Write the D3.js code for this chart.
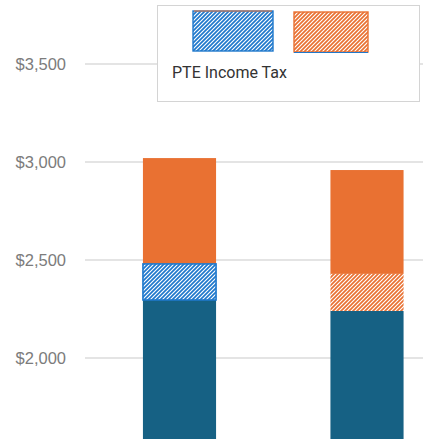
<!DOCTYPE html>
<html>
<head>
<meta charset="utf-8">
<script src="https://cdn.jsdelivr.net/npm/d3@7"></script>
<style>
  body { margin: 0; background: #fff; }
  svg { display: block; }
</style>
</head>
<body>
<svg id="chart"></svg>
<script>
const categories = ["Without PTE", "With PTE"];
const baseTax = [2296, 2240];
const pteTax = [184, 189];
const otherTax = [540, 530];
const yTicks = [2000, 2500, 3000, 3500];
const legendLabels = ["PTE Income Tax", ""];

const width = 423, height = 439;
const dark = "#166184", orange = "#e97132", blue = "#1f78cc";

const svg = d3.select("#chart").attr("width", width).attr("height", height);

// hatch patterns
const defs = svg.append("defs");
function hatch(id, color) {
  const p = defs.append("pattern")
    .attr("id", id)
    .attr("patternUnits", "userSpaceOnUse")
    .attr("width", 4).attr("height", 4);
  p.append("rect").attr("width", 4).attr("height", 4).attr("fill", "#fff");
  p.append("path")
    .attr("d", "M-1,1 l2,-2 M0,4 l4,-4 M3,5 l2,-2")
    .attr("stroke", color)
    .attr("stroke-width", 1.7);
}
hatch("hatchBlue", blue);
hatch("hatchOrange", orange);

const y = d3.scaleLinear().domain([1500, 3500]).range([456, 64]);
const x = d3.scaleBand().domain(categories)
  .range([85, 461.5]).paddingInner(0.61).paddingOuter(0.309);

// gridlines + tick labels
const grid = svg.append("g");
grid.selectAll("line").data(yTicks).enter().append("line")
  .attr("x1", 85).attr("x2", width)
  .attr("y1", d => y(d)).attr("y2", d => y(d))
  .attr("stroke", "#e4e4e4").attr("stroke-width", 2);
grid.selectAll("text").data(yTicks).enter().append("text")
  .attr("x", 66).attr("y", d => y(d)).attr("dy", "0.35em")
  .attr("text-anchor", "end")
  .style("font-family", "Liberation Sans, Arial")
  .style("font-size", "16.5px")
  .style("fill", "#7c7c7c")
  .text(d => "$" + d3.format(",")(d));

// bars
const bars = svg.append("g");
categories.forEach((c, i) => {
  const x0 = x(c), bw = x.bandwidth();
  const b = baseTax[i], p = b + pteTax[i], t = p + otherTax[i];
  bars.append("rect")
    .attr("x", x0).attr("width", bw)
    .attr("y", y(b)).attr("height", height + 20 - y(b))
    .attr("fill", dark);
  bars.append("rect")
    .attr("x", x0).attr("width", bw)
    .attr("y", y(t)).attr("height", y(p) - y(t))
    .attr("fill", orange);
  const h = bars.append("rect")
    .attr("x", x0).attr("width", bw)
    .attr("y", y(p)).attr("height", y(b) - y(p))
    .attr("fill", i === 0 ? "url(#hatchBlue)" : "url(#hatchOrange)");
  if (i === 0) h.attr("stroke", blue).attr("stroke-width", 1.6);
});

// legend
const legend = svg.append("g");
legend.append("rect")
  .attr("x", 157.5).attr("y", 5.5).attr("width", 262).attr("height", 96)
  .attr("fill", "#fff").attr("stroke", "#d4d4d4").attr("stroke-width", 1);
const sw = [
  {x: 193, y: 11, w: 80, h: 40, fill: "url(#hatchBlue)", stroke: blue},
  {x: 294, y: 12, w: 74, h: 40, fill: "url(#hatchOrange)", stroke: orange}
];
sw.forEach((s, i) => {
  legend.append("rect")
    .attr("x", s.x).attr("y", s.y).attr("width", s.w).attr("height", s.h)
    .attr("fill", s.fill).attr("stroke", s.stroke).attr("stroke-width", 1.4);
  legend.append("text")
    .attr("x", 172).attr("y", 78)
    .style("font-family", "Roboto, Arial")
    .style("font-size", "16px")
    .style("fill", "#333")
    .text(legendLabels[i]);
});
legend.append("line").attr("x1", 194).attr("x2", 272).attr("y1", 11).attr("y2", 11)
  .attr("stroke", orange).attr("stroke-width", 1);
legend.append("line").attr("x1", 294).attr("x2", 368).attr("y1", 52.5).attr("y2", 52.5)
  .attr("stroke", blue).attr("stroke-width", 1);
</script>
</body>
</html>
